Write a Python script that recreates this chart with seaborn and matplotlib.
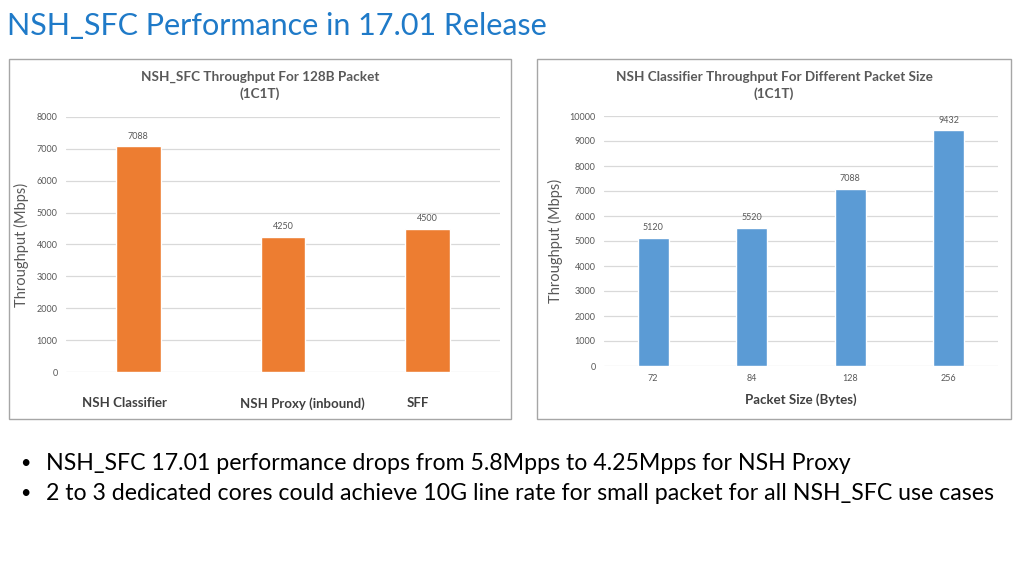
import matplotlib
matplotlib.use("Agg")
import matplotlib.pyplot as plt
import matplotlib.transforms as mtransforms
from matplotlib.patches import Rectangle
import seaborn as sns
import pandas as pd

# data
left_categories = ["NSH Classifier", "NSH Proxy (inbound)", "SFF"]
left_values = [7088, 4250, 4500]
right_sizes = ["72", "84", "128", "256"]
right_values = [5120, 5520, 7088, 9432]

main_title = "NSH_SFC Performance in 17.01 Release"
left_title = "NSH_SFC Throughput For 128B Packet\n(1C1T)"
right_title = "NSH Classifier Throughput For Different Packet Size\n(1C1T)"
bullets = [
    "NSH_SFC 17.01 performance drops from 5.8Mpps to 4.25Mpps for NSH Proxy",
    "2 to 3 dedicated cores could achieve 10G line rate for small packet for all NSH_SFC use cases",
]

ORANGE = "#ED7D31"
BLUE = "#5B9BD5"
GRAY = "#595959"
GRID = "#D9D9D9"

sns.set_theme(style="white")
plt.rcParams["font.family"] = ["Lato", "DejaVu Sans"]

fig = plt.figure(figsize=(10.24, 5.76), dpi=100)
W, H = 1024, 576


def px_box(x0, y0, x1, y1):
    # pixel box (top-left origin) -> figure fraction rect
    return [x0 / W, 1 - y1 / H, (x1 - x0) / W, (y1 - y0) / H]


# panel frames
for x0, y0, x1, y1 in [(9, 59, 511, 419), (537, 59, 1011, 419)]:
    fig.patches.append(Rectangle((x0 / W, 1 - y1 / H), (x1 - x0) / W, (y1 - y0) / H,
                                 transform=fig.transFigure, fill=False,
                                 edgecolor="#A6A6A6", linewidth=1.0))


def style_axes(ax, ymax, step):
    ax.set_ylim(0, ymax)
    ax.set_yticks(range(0, ymax + 1, step))
    ax.yaxis.grid(True, color=GRID, linewidth=0.9)
    ax.set_axisbelow(True)
    for s in ax.spines.values():
        s.set_visible(False)
    ax.tick_params(axis="both", length=0, labelcolor=GRAY)
    ax.tick_params(axis="y", labelsize=6.5, pad=6)
    ax.set_xlabel("")


# left chart
df_left = pd.DataFrame({"cat": left_categories, "val": left_values})
axl = fig.add_axes(px_box(66, 117, 500, 372))
sns.barplot(data=df_left, x="cat", y="val", color=ORANGE, saturation=1, width=0.31, ax=axl)
style_axes(axl, 8000, 1000)
axl.set_xlim(-0.5, 2.5)
axl.set_ylabel("Throughput (Mbps)", color=GRAY, fontsize=10.5)
axl.yaxis.set_label_coords(-0.085, 0.5)
axl.tick_params(axis="x", labelsize=9.5, pad=18, labelcolor="#404040")
shifts = [-14, 19, -10]
for lab, dx in zip(axl.get_xticklabels(), shifts):
    lab.set_fontweight("bold")
    lab.set_transform(lab.get_transform() + mtransforms.ScaledTranslation(dx / 100, 0, fig.dpi_scale_trans))
for c in axl.containers:
    axl.bar_label(c, labels=[str(v) for v in left_values], padding=4, fontsize=6.5, color=GRAY)

# right chart
df_right = pd.DataFrame({"size": right_sizes, "val": right_values})
axr = fig.add_axes(px_box(604, 116, 998, 366))
sns.barplot(data=df_right, x="size", y="val", order=right_sizes, color=BLUE, saturation=1, width=0.31, ax=axr)
style_axes(axr, 10000, 1000)
axr.set_xlim(-0.5, 3.5)
axr.set_ylabel("Throughput (Mbps)", color=GRAY, fontsize=10.5)
axr.yaxis.set_label_coords(-0.103, 0.5)
axr.tick_params(axis="x", labelsize=6.5, pad=6)
axr.set_xlabel("Packet Size (Bytes)", color="#404040", fontsize=9.5, fontweight="bold", labelpad=7)
for c in axr.containers:
    axr.bar_label(c, labels=[str(v) for v in right_values], padding=4, fontsize=6.5, color=GRAY)

# titles
fig.text(260 / W, 1 - 85.5 / H, left_title, ha="center", va="center", fontsize=9.7,
         fontweight="bold", color=GRAY, linespacing=1.45)
fig.text(774 / W, 1 - 85.5 / H, right_title, ha="center", va="center", fontsize=9.7,
         fontweight="bold", color=GRAY, linespacing=1.45)
fig.text(7 / W, 1 - 26 / H, main_title, ha="left", va="center", fontsize=22, color="#1F7AC8")

# bullet points
for i, t in enumerate(bullets):
    y = 1 - (463 + 30 * i) / H
    fig.text(20 / W, y, "\u2022", ha="left", va="center", fontsize=13, color="black")
    fig.text(46 / W, y, t, ha="left", va="center", fontsize=16.7, color="black")

fig.savefig("out.png", dpi=100, facecolor="white")
